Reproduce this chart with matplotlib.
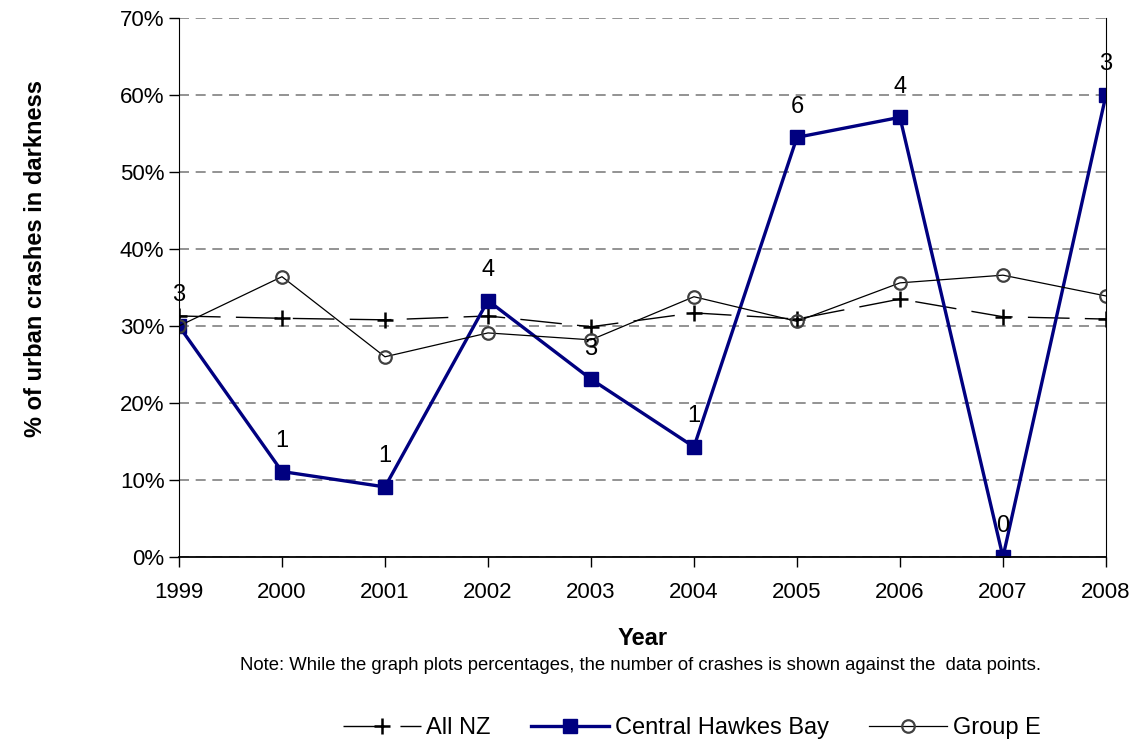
import matplotlib
matplotlib.use('Agg')
import matplotlib.pyplot as plt
import numpy as np
from matplotlib.ticker import FuncFormatter

plt.rcParams['font.family'] = ['Liberation Sans', 'DejaVu Sans']

years = [1999, 2000, 2001, 2002, 2003, 2004, 2005, 2006, 2007, 2008]
all_nz = [31.3, 31.0, 30.8, 31.3, 29.9, 31.7, 30.9, 33.5, 31.2, 30.9]
chb = [30.0, 11.1, 9.1, 33.3, 23.1, 14.3, 54.5, 57.1, 0.0, 60.0]
chb_counts = ['3', '1', '1', '4', '3', '1', '6', '4', '0', '3']
group_e = [30.0, 36.4, 26.0, 29.1, 28.2, 33.8, 30.6, 35.6, 36.6, 33.9]

fig = plt.figure(figsize=(11.32, 7.4), dpi=100)
ax = fig.add_axes([0.1581, 0.2473, 0.8189, 0.7284])

navy = '#000080'
ax.plot(years, all_nz, label='All NZ', color='black', lw=1.0,
        dashes=(30, 11), marker='+', ms=12, mew=1.8, mec='black')
ax.plot(years, chb, label='Central Hawkes Bay', color=navy, lw=2.4,
        marker='s', ms=10, mfc=navy, mec=navy)
ax.plot(years, group_e, label='Group E', color='black', lw=0.9,
        marker='o', ms=9, mfc='none', mec='#404040', mew=1.6)

# crash counts above the CHB points
for x, y, t in zip(years, chb, chb_counts):
    ax.annotate(t, (x, y), xytext=(0, 22), textcoords='offset points',
                ha='center', va='center', fontsize=17)

ax.set_xlim(1999, 2008)
ax.set_ylim(0, 70)
ax.set_xticks(years)
ax.set_yticks(range(0, 71, 10))
ax.yaxis.set_major_formatter(FuncFormatter(lambda v, p: '%d%%' % v))
ax.tick_params(axis='both', labelsize=16, direction='out', length=7, width=1)
ax.tick_params(axis='x', pad=11)
ax.yaxis.grid(True, color='#808080', linestyle=(0, (6, 4)), lw=1.2)
ax.set_axisbelow(True)
ax.spines['top'].set_visible(False)
for s in ['left', 'right', 'bottom']:
    ax.spines[s].set_color('black')
ax.spines['bottom'].set_linewidth(1.3)

ax.set_xlabel('Year', fontsize=17, fontweight='bold', labelpad=17)
fig.text(0.031, 0.651, '% of urban crashes in darkness', rotation=90,
         ha='center', va='center', fontsize=17, fontweight='bold')
fig.text(0.566, 0.101, 'Note: While the graph plots percentages, the number of crashes is shown against the  data points.',
         ha='center', va='center', fontsize=13.3)

handles, labels = ax.get_legend_handles_labels()
fig.legend(handles, labels, loc='center', bbox_to_anchor=(0.611, 0.016), ncol=3,
           frameon=False, fontsize=17, handlelength=3.3, columnspacing=1.7,
           handletextpad=0.25, borderpad=0)

plt.savefig('out.png', dpi=100)
